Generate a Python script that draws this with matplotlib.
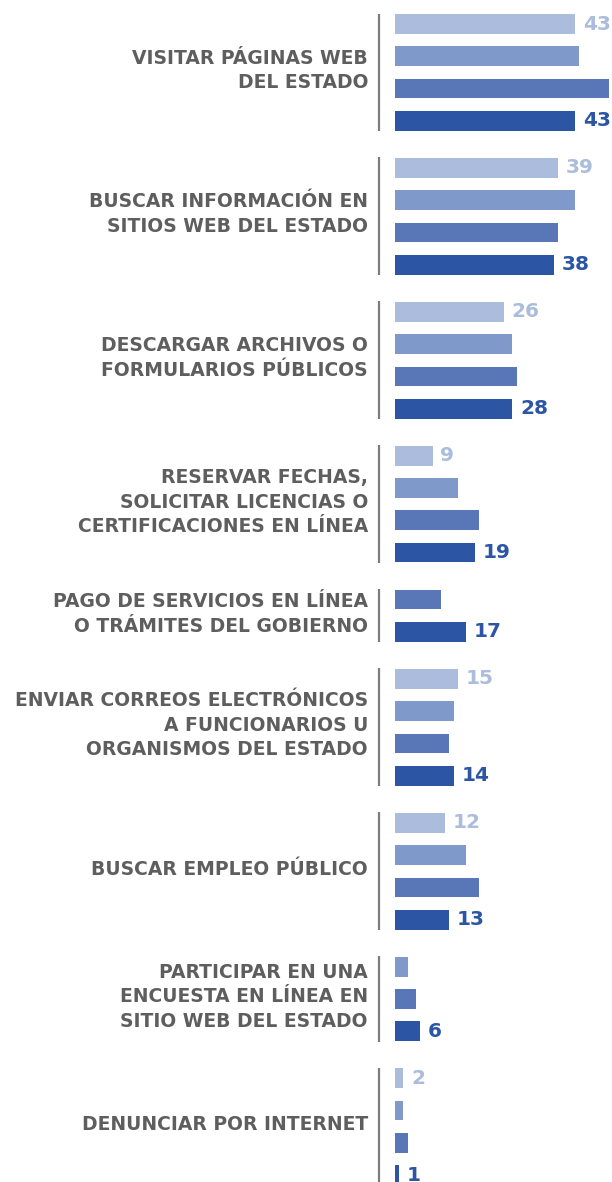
import numpy as np
import matplotlib
matplotlib.use("Agg")
import matplotlib.pyplot as plt

categories = [
    "VISITAR PÁGINAS WEB\nDEL ESTADO",
    "BUSCAR INFORMACIÓN EN\nSITIOS WEB DEL ESTADO",
    "DESCARGAR ARCHIVOS O\nFORMULARIOS PÚBLICOS",
    "RESERVAR FECHAS,\nSOLICITAR LICENCIAS O\nCERTIFICACIONES EN LÍNEA",
    "PAGO DE SERVICIOS EN LÍNEA\nO TRÁMITES DEL GOBIERNO",
    "ENVIAR CORREOS ELECTRÓNICOS\nA FUNCIONARIOS U\nORGANISMOS DEL ESTADO",
    "BUSCAR EMPLEO PÚBLICO",
    "PARTICIPAR EN UNA\nENCUESTA EN LÍNEA EN\nSITIO WEB DEL ESTADO",
    "DENUNCIAR POR INTERNET",
]

# four series per activity; None = no bar for that series
serie_1 = [43, 39, 26, 9, None, 15, 12, None, 2]
serie_2 = [44, 43, 28, 15, None, 14, 17, 3, 2]
serie_3 = [51, 39, 29, 20, 11, 13, 20, 5, 3]
serie_4 = [43, 38, 28, 19, 17, 14, 13, 6, 1]

series = [serie_1, serie_2, serie_3, serie_4]
colors = ["#abbcdc", "#7f9aca", "#5977b7", "#2c55a4"]
labelled = {0: True, 1: False, 2: False, 3: True}

GROUP_GAP = 0.455
BAR_H = 0.61

fig = plt.figure(figsize=(6.12, 11.82), dpi=100)
ax = fig.add_axes([0, 0, 1, 1])

px_per_unit_y = 32.3
px_per_unit_x = 4.19
x0_px = 395
ax.set_xlim(-x0_px / px_per_unit_x, (612 - x0_px) / px_per_unit_x)
ax.set_ylim((1182 - 24) / px_per_unit_y, -24 / px_per_unit_y)
ax.axis("off")

font = "DejaVu Sans"
slot = 0
for g, cat in enumerate(categories):
    ys = []
    for s, vals in enumerate(series):
        v = vals[g]
        if v is None:
            continue
        y = slot + g * GROUP_GAP
        ys.append(y)
        ax.barh(y, v, height=BAR_H, color=colors[s], left=0)
        if labelled[s]:
            ax.annotate(str(v), xy=(v, y), xytext=(5.5, 0), textcoords="offset points",
                        ha="left", va="center", fontsize=14.5, fontweight="bold",
                        color=colors[s], family=font)
        slot += 1
    top = min(ys) - BAR_H / 2 - 0.02
    bot = max(ys) + BAR_H / 2 + 0.02
    ax.vlines(-16.5 / px_per_unit_x, top, bot, color="#7d7d7d", lw=1.6)
    yc = (min(ys) + max(ys)) / 2
    ax.annotate(cat, xy=(0, yc), xytext=(-27 * 0.72, 1.5), textcoords="offset points",
                ha="right", va="center", multialignment="right",
                fontsize=13.5, fontweight="bold", color="#5e5e5e",
                family=font, linespacing=1.38)

fig.savefig("out.png", dpi=100)
